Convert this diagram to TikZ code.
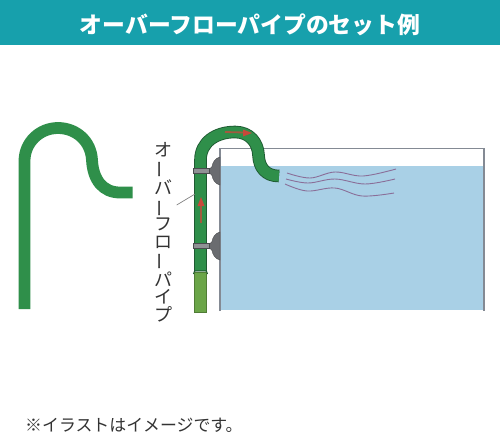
\documentclass[tikz,border=0pt]{standalone}
\usepackage{graphicx}
\usepackage{fontspec}
\setmainfont{Noto Sans CJK JP}
\definecolor{barteal}{HTML}{17A0AC}
\definecolor{pipegreen}{HTML}{2F8F4A}
\definecolor{pipeedge}{HTML}{1F5A32}
\definecolor{sleeve}{HTML}{6BA548}
\definecolor{water}{HTML}{A9D0E6}
\definecolor{glass}{HTML}{848A94}
\definecolor{sucker}{HTML}{6A6C70}
\definecolor{flow}{HTML}{C8483A}
\definecolor{ripple}{HTML}{8A6E98}
\tikzset{
  tubeline/.style={line cap=butt,line join=round},
  flowarrow/.style={flow!75!pipegreen,line width=1.8pt},
  rippleline/.style={ripple,line width=0.9pt},
  suckerbody/.style={fill=sucker,draw=sucker!70!black,line width=0.4pt}
}
\newcommand{\sidelabel}{\rotatebox[origin=c]{90}{ー}}
\begin{document}
\begin{tikzpicture}[x=1pt,y=-1pt]
\useasboundingbox (0,0) rectangle (500,437);
\fill[white] (0,0) rectangle (500,437);
\fill[barteal] (0,0) rectangle (500,45);
\node[text=white,font=\fontsize{22.8}{24}\selectfont\bfseries] (title) at (250,25) {オーバーフローパイプのセット例};

% loose pipe on the left
\draw[tubeline,pipegreen,line width=11.8pt]
  (24.5,309) -- (24.5,161) .. controls (24.5,142.5) and (39.5,128) .. (58,128)
  .. controls (76,128) and (91,141) .. (92,160)
  .. controls (93,180) and (103,192.5) .. (120,192.5) -- (132.5,192.5);

% tank
\fill[water] (221,165.5) rectangle (484,310);
\draw[glass,line width=1.2pt] (220,311) -- (220,148.5) -- (484,148.5) -- (484,311);

% hanging pipe
\fill[sleeve,draw=sleeve!75!black,line width=0.4pt] (194.4,272) -- (194.4,312) -- (206.2,312) -- (206.2,272) -- cycle;
\foreach \tubecol/\tubew in {pipeedge/12.6pt,pipegreen/10.8pt}{
  \draw[tubeline,\tubecol,line width=\tubew]
    (200.5,271) -- (200.5,160) .. controls (200.5,142) and (216,132) .. (235,132)
    .. controls (250,132) and (258,143) .. (258.5,155)
    .. controls (259,168) and (266,176) .. (279,176);
}
\draw[pipeedge,line width=0.9pt,rounded corners=1pt] (193.4,274) -- (194.5,270.8) -- (206.5,270.8) -- (207.6,274);

% suction cups
\foreach \cy in {171,246}{
  \fill[suckerbody] (220,\cy-14) .. controls (215,\cy-13) and (212.5,\cy-8) .. (212,\cy-4.5)
    .. controls (211.5,\cy-3) and (210,\cy-2.5) .. (208,\cy-2.5)
    -- (208,\cy+2.5) .. controls (210,\cy+2.5) and (211.5,\cy+3) .. (212,\cy+4.5)
    .. controls (212.5,\cy+8) and (215,\cy+13) .. (220,\cy+14) -- cycle;
  \fill[suckerbody,fill=sucker!75!white] (193.5,\cy-2.6) rectangle (209,\cy+2.6);
}

% flow direction marks
\draw[flowarrow] (201,223) -- (201,205);
\fill[flow] (201,197) -- (197.5,206) -- (204.5,206) -- cycle;
\draw[flowarrow] (225,132) -- (244,132.5);
\fill[flow] (252,133) -- (243,129.5) -- (243,136.5) -- cycle;

% surface ripples
\draw[rippleline] plot[smooth,tension=0.6] coordinates {(287,173) (310,178) (335,172) (363,176) (396,169)};
\draw[rippleline] plot[smooth,tension=0.6] coordinates {(286,179) (308,183) (335,179) (365,184) (395,179)};
\draw[rippleline] plot[smooth,tension=0.6] coordinates {(285,184) (307,191) (335,188) (362,196) (394,193)};

% leader and vertical label
\coordinate (leaderend) at (176.7,205);
\coordinate (leadertip) at (195,194);
\draw[gray,line width=0.7pt] (leaderend) -- (leadertip);
\node[font=\fontsize{18}{17.5}\selectfont,text=black!80,align=center,inner sep=0pt,text width=20pt] (pipelabel) at (163,232)
  {オ\\\sidelabel\\バ\\\sidelabel\\フ\\ロ\\\sidelabel\\パ\\イ\\プ};

% footnote
\node[font=\fontsize{16.9}{18}\selectfont,text=black!80,anchor=west,inner sep=0pt] (note) at (25,425) {※イラストはイメージです。};
\end{tikzpicture}
\end{document}
